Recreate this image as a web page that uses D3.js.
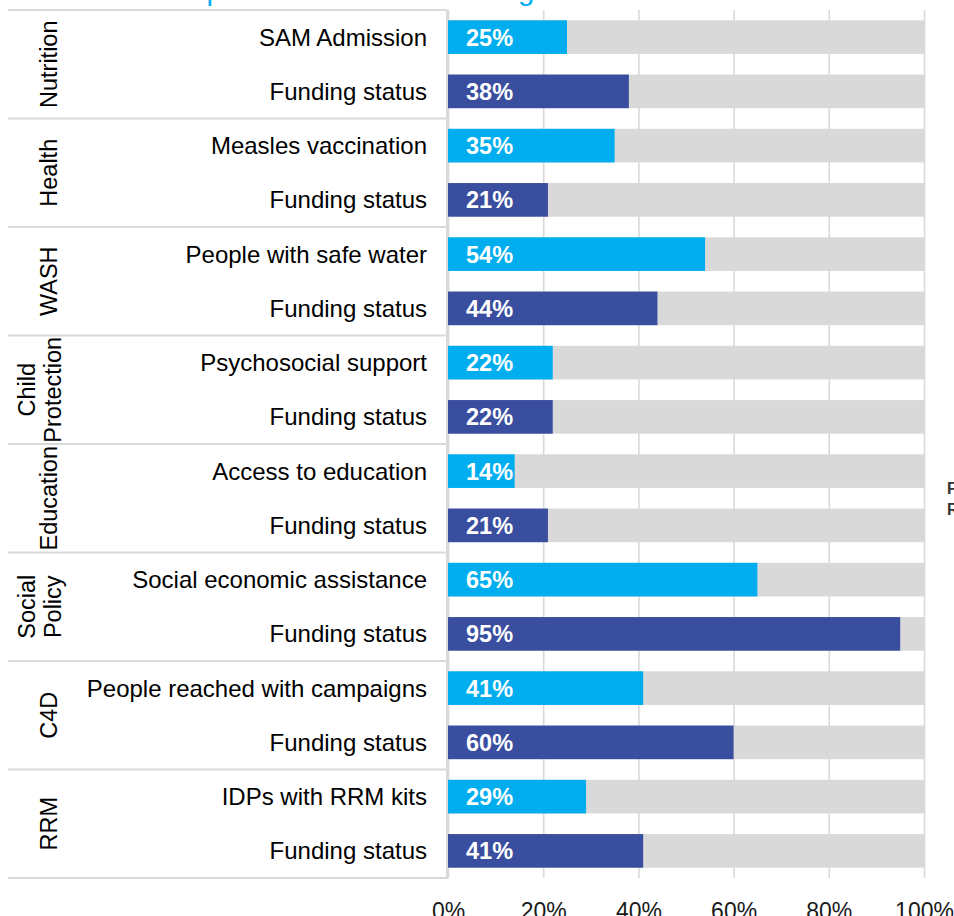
<!DOCTYPE html>
<html>
<head>
<meta charset="utf-8">
<script src="https://cdn.jsdelivr.net/npm/d3@7"></script>
<style>
    body { margin: 0; background: #fff; }
    svg { display: block; font-family: "Liberation Sans", Arial, sans-serif; }
</style>
</head>
<body>
<div id="bar-chart"></div>
<script>
// Chart data
const groups = ['Nutrition', 'Health', 'WASH', 'Child Protection', 'Education', 'Social Policy', 'C4D', 'RRM'];
const indicators = ['SAM Admission', 'Measles vaccination', 'People with safe water', 'Psychosocial support',
    'Access to education', 'Social economic assistance', 'People reached with campaigns', 'IDPs with RRM kits'];
const progress = [25, 35, 54, 22, 14, 65, 41, 29];
const funding = [38, 21, 44, 22, 21, 95, 60, 41];
const xTicks = [0, 20, 40, 60, 80, 100];
const titleText = 'Sector performance and funding';
const sideLabels = ['Funding', 'Response'];

document.addEventListener('DOMContentLoaded', function() {
    const colors = { progress: '#00AEEF', funding: '#3A4EA0', track: '#D9D9D9', grid: '#D9D9D9' };

    // two rows per group: indicator, then funding status
    const rows = [];
    groups.forEach((g, i) => {
        rows.push({ group: g, label: indicators[i], value: progress[i], type: 'progress' });
        rows.push({ group: g, label: 'Funding status', value: funding[i], type: 'funding' });
    });

    const width = 954, height = 916;
    const top = 10, bottom = 878;
    const x0 = 448, x1 = 924;

    const svg = d3.select('#bar-chart').append('svg')
        .attr('width', width)
        .attr('height', height);

    const x = d3.scaleLinear().domain([0, 100]).range([x0, x1]);

    const y = d3.scaleBand()
        .domain(d3.range(rows.length))
        .range([top, bottom])
        .paddingInner(0.38)
        .paddingOuter(0.19);

    const yGroup = d3.scaleBand()
        .domain(groups)
        .range([top, bottom]);

    // title, only the descenders show at the top edge
    svg.append('text')
        .attr('x', 113)
        .attr('y', -0.5)
        .style('font-size', '29.5px')
        .attr('fill', '#00AEEF')
        .text(titleText);

    // gridlines + tick labels
    const axis = svg.append('g')
        .attr('transform', `translate(0,${bottom})`)
        .call(d3.axisBottom(x)
            .tickValues(xTicks)
            .tickSize(-(bottom - top))
            .tickPadding(25)
            .tickFormat(d => d + '%'));
    axis.select('.domain').remove();
    axis.selectAll('line')
        .attr('stroke', colors.grid)
        .attr('stroke-width', 1.6);
    axis.selectAll('text')
        .style('font-size', '23px')
        .attr('fill', '#1a1a1a');

    // table lines on the left
    svg.append('line')
        .attr('x1', 8).attr('x2', 447)
        .attr('y1', top).attr('y2', top)
        .attr('stroke', colors.grid).attr('stroke-width', 2);
    svg.selectAll('.group-line')
        .data(groups)
        .enter().append('line')
        .attr('class', 'group-line')
        .attr('x1', 8).attr('x2', 447)
        .attr('y1', d => yGroup(d) + yGroup.bandwidth())
        .attr('y2', d => yGroup(d) + yGroup.bandwidth())
        .attr('stroke', colors.grid).attr('stroke-width', 2);
    svg.append('line')
        .attr('x1', 447).attr('x2', 447)
        .attr('y1', top).attr('y2', bottom + 1)
        .attr('stroke', colors.grid).attr('stroke-width', 2);

    // grey tracks
    svg.selectAll('.track')
        .data(rows)
        .enter().append('rect')
        .attr('class', 'track')
        .attr('x', x(0))
        .attr('y', (d, i) => y(i))
        .attr('width', x(100) - x(0))
        .attr('height', y.bandwidth())
        .attr('fill', colors.track);

    // bars
    svg.selectAll('.bar')
        .data(rows)
        .enter().append('rect')
        .attr('class', 'bar')
        .attr('x', x(0))
        .attr('y', (d, i) => y(i))
        .attr('width', d => x(d.value) - x(0))
        .attr('height', y.bandwidth())
        .attr('fill', d => colors[d.type]);

    // value labels in bars
    svg.selectAll('.value')
        .data(rows)
        .enter().append('text')
        .attr('class', 'value')
        .attr('x', x(0) + 18)
        .attr('y', (d, i) => y(i) + y.bandwidth() / 2)
        .attr('dy', '0.36em')
        .style('font-size', '23.5px')
        .style('font-weight', 'bold')
        .attr('fill', '#fff')
        .text(d => d.value + '%');

    // row labels
    svg.selectAll('.row-label')
        .data(rows)
        .enter().append('text')
        .attr('class', 'row-label')
        .attr('x', 427)
        .attr('y', (d, i) => y(i) + y.bandwidth() / 2)
        .attr('dy', '0.35em')
        .attr('text-anchor', 'end')
        .style('font-size', '24px')
        .attr('fill', '#000')
        .text(d => d.label);

    // rotated group labels
    const gl = svg.selectAll('.group-label')
        .data(groups)
        .enter().append('g')
        .attr('class', 'group-label')
        .attr('transform', d => `translate(0,${yGroup(d) + yGroup.bandwidth() / 2}) rotate(-90)`);
    gl.each(function(d) {
        const words = d.split(' ');
        const baselines = words.length === 1 ? [57] : [35, 61];
        d3.select(this).selectAll('text')
            .data(words)
            .enter().append('text')
            .attr('x', 0)
            .attr('y', (w, k) => baselines[k])
            .attr('text-anchor', 'middle')
            .style('font-size', '23.5px')
            .attr('fill', '#000')
            .text(w => w);
    });

    // clipped labels at the right edge
    svg.selectAll('.side')
        .data(sideLabels)
        .enter().append('text')
        .attr('class', 'side')
        .attr('x', 947)
        .attr('y', (d, i) => 494 + i * 21)
        .style('font-size', '16px')
        .style('font-weight', 'bold')
        .attr('fill', '#333')
        .text(d => d);
});
</script>
</body>
</html>
